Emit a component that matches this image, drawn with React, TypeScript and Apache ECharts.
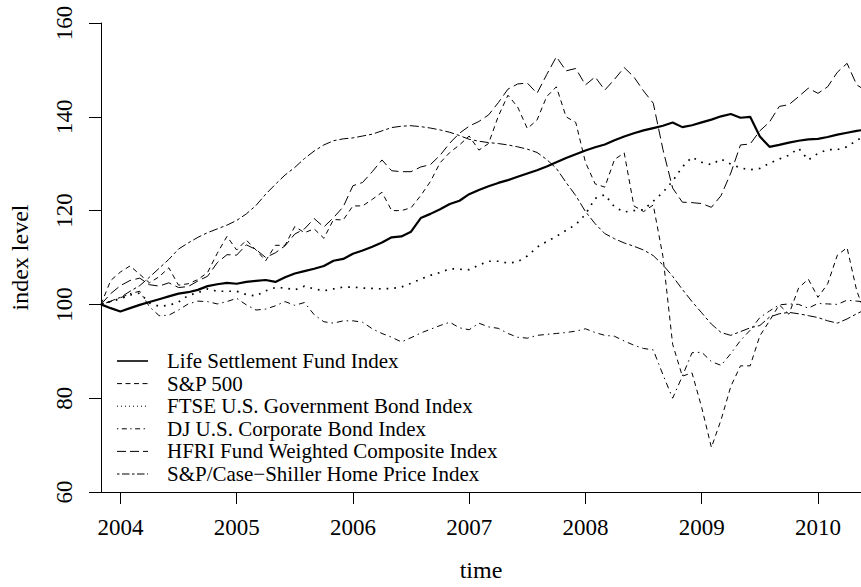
import { useEffect, useRef } from "react";
import * as echarts from "echarts";

// Monthly series, first observation November 2003 (= 100)
const START_YEAR = 2003;
const START_MONTH = 11;

const yearTicks = [2004, 2005, 2006, 2007, 2008, 2009, 2010];
const yMin = 60;
const yMax = 160;
const yStep = 20;

const seriesNames = [
  "Life Settlement Fund Index",
  "S&P 500",
  "FTSE U.S. Government Bond Index",
  "DJ U.S. Corporate Bond Index",
  "HFRI Fund Weighted Composite Index",
  "S&P/Case\u2212Shiller Home Price Index",
];

const lifeSettlement = [
  100, 99.2, 98.5, 99.2, 99.9, 100.5, 101.1, 101.7, 102.3, 102.6,
  103.1, 103.9, 104.3, 104.6, 104.4, 104.8, 105.0, 105.2, 104.8, 105.8,
  106.6, 107.1, 107.6, 108.2, 109.3, 109.7, 110.8, 111.5, 112.3, 113.2,
  114.3, 114.5, 115.5, 118.4, 119.3, 120.3, 121.4, 122.1, 123.5, 124.4,
  125.2, 125.9, 126.5, 127.2, 127.9, 128.6, 129.4, 130.3, 131.2, 132.0,
  132.8, 133.5, 134.1, 135.0, 135.8, 136.5, 137.1, 137.6, 138.1, 138.8,
  137.8, 138.2, 138.8, 139.4, 140.1, 140.6, 139.8, 140.0, 135.8, 133.6,
  134.0, 134.5, 134.9, 135.2, 135.3, 135.7, 136.2, 136.6, 137.0, 137.3,
];

const sp500 = [
  100, 105.1, 106.9, 108.2, 106.4, 104.6, 105.9, 107.8, 104.1, 104.4,
  105.3, 106.8, 110.9, 114.5, 111.6, 113.7, 111.6, 109.3, 112.6, 112.6,
  116.6, 115.3, 116.1, 114.1, 118.1, 118.0, 121.0, 121.0, 122.4, 123.9,
  120.0, 120.0, 120.6, 123.2, 126.2, 130.2, 132.4, 134.0, 135.9, 132.9,
  134.3, 140.1, 144.6, 142.1, 137.5, 139.3, 144.3, 146.4, 140.0, 138.8,
  130.3, 125.7, 125.0, 130.9, 132.3, 121.0, 119.8, 121.2, 110.2, 91.5,
  84.7, 85.4, 78.0, 69.5, 75.4, 82.5, 86.9, 86.9, 93.3, 96.5,
  99.9, 97.9, 103.5, 105.4, 101.5, 104.4, 110.5, 112.1, 102.9, 97.4,
];

const ftseGovBond = [
  100, 100.6, 101.2, 102.0, 102.4, 100.3, 99.6, 99.8, 100.5, 101.9,
  102.5, 103.3, 102.8, 102.8, 102.8, 102.1, 101.8, 102.9, 103.6, 103.5,
  103.1, 103.9, 103.3, 102.9, 103.3, 103.7, 103.7, 103.5, 103.4, 103.3,
  103.4, 103.7, 104.5, 105.4, 106.2, 106.8, 107.6, 107.5, 107.4, 108.4,
  109.2, 109.2, 108.8, 109.1, 110.3, 112.2, 113.4, 114.5, 115.8, 117.0,
  119.2, 122.6, 123.4, 120.8, 119.7, 120.0, 120.2, 122.0, 123.9, 126.3,
  129.3, 131.4, 130.3, 129.8, 131.0, 129.9, 129.1, 128.7, 129.0, 130.1,
  131.0, 131.8, 133.3, 130.8, 132.2, 133.0, 133.0, 133.6, 135.0, 136.0,
];

const djCorpBond = [
  100, 100.6, 101.4, 102.3, 102.8, 99.5, 97.6, 97.7, 98.8, 100.1,
  100.7, 100.6, 100.1, 100.6, 101.3, 99.9, 98.8, 99.0, 99.7, 100.6,
  99.8, 100.4, 97.8, 96.3, 96.0, 96.5, 96.5, 96.2, 94.8, 93.8,
  93.0, 92.0, 92.9, 93.9, 94.7, 95.5, 96.2, 95.0, 94.6, 96.0,
  95.2, 94.9, 93.8, 93.0, 92.8, 93.4, 93.6, 93.8, 94.0, 94.3,
  94.8, 94.0, 93.4, 93.2, 92.2, 91.3, 90.6, 90.3, 85.0, 80.0,
  84.7, 89.7, 89.8, 87.8, 87.0, 89.5, 92.3, 94.5, 97.2, 98.6,
  99.9, 100.1, 100.0, 99.2, 100.2, 100.1, 100.0, 100.9, 100.7, 100.5,
];

const hfri = [
  100, 102.3, 104.0, 105.1, 105.6, 104.2, 103.9, 104.6, 103.6, 103.8,
  105.0, 106.0, 108.9, 110.6, 110.5, 112.7, 111.7, 110.0, 111.0, 112.5,
  115.0, 116.1, 118.3, 116.5, 118.5, 120.8, 125.3, 126.0, 128.3, 130.8,
  128.5, 128.3, 128.3, 129.3, 129.8, 131.8, 134.4, 136.5, 138.0, 139.0,
  140.4, 143.0, 145.9, 147.0, 147.2, 145.0, 149.0, 152.8, 149.8, 150.3,
  146.8, 148.5, 145.7, 148.0, 150.5, 148.5, 145.5, 142.9, 133.0, 124.8,
  121.8, 121.7, 121.5, 120.7, 123.2, 128.0, 134.0, 134.2, 137.0, 138.9,
  142.2, 142.6, 144.3, 146.1, 145.0, 146.4, 149.5, 151.4, 146.8, 145.5,
];

const caseShiller = [
  100, 100.7, 101.5, 102.8, 104.0, 105.8, 107.7, 109.6, 111.8, 113.1,
  114.3, 115.3, 116.1, 116.9, 117.9, 119.3, 121.1, 123.5, 125.6, 127.6,
  129.2, 131.1, 132.7, 134.0, 134.9, 135.3, 135.5, 135.9, 136.3, 137.0,
  137.7, 138.0, 138.1, 137.9, 137.6, 137.2, 136.7, 136.0, 135.2, 134.8,
  134.5, 134.3, 134.0, 133.6, 133.1, 132.4, 130.9, 129.0, 126.0, 123.2,
  119.8, 117.2, 115.1, 114.0, 113.1, 112.4, 111.6, 110.4, 108.4, 106.0,
  103.2, 100.6, 98.2, 95.8, 94.0, 93.4, 94.2, 95.0, 95.5, 97.3,
  98.0, 98.3, 98.0, 97.6, 97.2, 96.5, 96.0, 96.9, 98.0, 99.0,
];

const allValues = [lifeSettlement, sp500, ftseGovBond, djCorpBond, hfri, caseShiller];

const FONT = "'Liberation Serif', 'Times New Roman', serif";

// R-like line types: solid, dashed, dotted, dotdash, longdash, twodash
const lineStyles: { width: number; type: any }[] = [
  { width: 2.2, type: "solid" },
  { width: 1, type: [5, 4] },
  { width: 1.7, type: [1.7, 6] },
  { width: 1, type: [1.5, 4, 6, 4] },
  { width: 1, type: [10, 4.5] },
  { width: 1, type: [3, 3, 9, 3] },
];
const legendDash: (number[] | null)[] = [null, [5, 3.5], [1, 3], [1.3, 3.5, 5, 3.5], [9, 4], [2.5, 2.5, 7.5, 2.5]];

const xMin = START_YEAR + (START_MONTH - 1) / 12;
const xMax = 2010.37;

function toPoints(values: number[]) {
  return values.map((v, i) => [START_YEAR + (START_MONTH - 1 + i) / 12, v]);
}

export default function App() {
  const ref = useRef<HTMLDivElement>(null);
  useEffect(() => {
    if (!ref.current) return;
    const chart = echarts.init(ref.current, null, { renderer: "svg" });
    const legendTop = 361;
    const legendStep = 22.6;
    const graphic: any[] = [];
    seriesNames.forEach((name, k) => {
      const y = legendTop + k * legendStep;
      graphic.push({
        type: "line",
        shape: { x1: 117, y1: y, x2: 148, y2: y },
        style: {
          stroke: "#000",
          lineWidth: k === 0 ? 1.6 : 1,
          lineDash: legendDash[k] || undefined,
        },
      });
      graphic.push({
        type: "text",
        x: 167,
        y: y,
        style: {
          text: name,
          fill: "#000",
          fontFamily: FONT,
          fontSize: 21,
          verticalAlign: "middle",
          align: "left",
        },
      });
    });

    chart.setOption({
      animation: false,
      backgroundColor: "#fff",
      grid: { left: 100, top: 23, right: 0, bottom: 92, containLabel: false },
      xAxis: {
        type: "value",
        min: xMin,
        max: xMax,
        name: "time",
        nameLocation: "middle",
        nameGap: 66,
        nameTextStyle: { fontFamily: FONT, fontSize: 24, color: "#000" },
        axisLine: { show: true, onZero: false, lineStyle: { color: "#000", width: 1 } },
        axisTick: { show: true, length: 12, customValues: yearTicks, lineStyle: { color: "#000", width: 1 } },
        axisLabel: {
          customValues: yearTicks,
          formatter: (v: number) => String(Math.round(v)),
          fontFamily: FONT,
          fontSize: 23,
          color: "#000",
          margin: 24,
        },
        splitLine: { show: false },
      },
      yAxis: {
        type: "value",
        min: yMin,
        max: yMax,
        interval: yStep,
        name: "index level",
        nameLocation: "middle",
        nameGap: 69,
        nameRotate: 90,
        nameTextStyle: { fontFamily: FONT, fontSize: 24, color: "#000" },
        axisLine: { show: true, onZero: false, lineStyle: { color: "#000", width: 1 } },
        axisTick: { show: true, length: 12, lineStyle: { color: "#000", width: 1 } },
        axisLabel: {
          rotate: 90,
          fontFamily: FONT,
          fontSize: 23,
          color: "#000",
          margin: 25,
        },
        splitLine: { show: false },
      },
      series: allValues.map((vals, k) => ({
        name: seriesNames[k],
        type: "line",
        data: toPoints(vals),
        showSymbol: false,
        symbol: "none",
        clip: true,
        lineStyle: { color: "#000", width: lineStyles[k].width, type: lineStyles[k].type },
        emphasis: { disabled: true },
        z: k === 0 ? 3 : 2,
      })),
      graphic,
    });
    return () => chart.dispose();
  }, []);
  return (
    <div
      ref={ref}
      style={{ position: "fixed", left: 0, top: 0, width: 861, height: 587, background: "#fff" }}
    />
  );
}
